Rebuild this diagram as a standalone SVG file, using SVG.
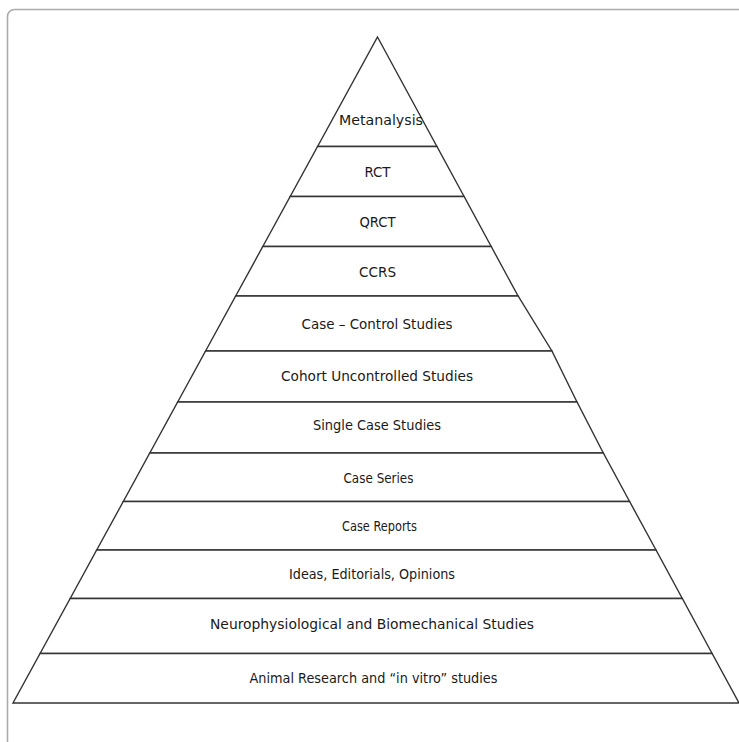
<svg xmlns="http://www.w3.org/2000/svg" width="739" height="742" viewBox="0 0 739 742">
<style>
.frame{fill:none;stroke:#ababab;stroke-width:1.6}
.band{fill:#fff;stroke:#333;stroke-width:1.4;stroke-linejoin:miter}
.lbl{font-family:"DejaVu Sans Condensed","Liberation Sans",Arial,sans-serif;font-stretch:condensed;font-size:14px;fill:#1a1a1a;text-anchor:middle}
</style>
<rect width="739" height="742" fill="#fff"/>
<rect class="frame" x="7.5" y="9.5" width="760" height="760" rx="7" ry="7"/>
<g id="pyramid">
<g id="n1"><polygon class="band" points="377.5,37 436.9,146.5 317.6,146.5"/><text class="lbl" x="381" y="125" textLength="84" lengthAdjust="spacingAndGlyphs">Metanalysis</text></g>
<g id="n2"><polygon class="band" points="317.6,146.5 436.9,146.5 464.1,196.5 290.2,196.5"/><text class="lbl" x="377.5" y="177" textLength="26" lengthAdjust="spacingAndGlyphs">RCT</text></g>
<g id="n3"><polygon class="band" points="290.2,196.5 464.1,196.5 491.2,246.5 262.8,246.5"/><text class="lbl" x="377.5" y="227" textLength="36" lengthAdjust="spacingAndGlyphs">QRCT</text></g>
<g id="n4"><polygon class="band" points="262.8,246.5 491.2,246.5 518.1,296 235.7,296"/><text class="lbl" x="377.5" y="276.5" textLength="37" lengthAdjust="spacingAndGlyphs">CCRS</text></g>
<g id="n5"><polygon class="band" points="235.7,296 518.1,296 551.9,351 205.6,351"/><text class="lbl" x="377" y="328.5" textLength="151" lengthAdjust="spacingAndGlyphs">Case – Control Studies</text></g>
<g id="n6"><polygon class="band" points="205.6,351 551.9,351 577,402 177.7,402"/><text class="lbl" x="377" y="380.5" textLength="192" lengthAdjust="spacingAndGlyphs">Cohort Uncontrolled Studies</text></g>
<g id="n7"><polygon class="band" points="177.7,402 577,402 603.3,453 149.8,453"/><text class="lbl" x="377" y="430" textLength="128" lengthAdjust="spacingAndGlyphs">Single Case Studies</text></g>
<g id="n8"><polygon class="band" points="149.8,453 603.3,453 629.6,501.5 123.3,501.5"/><text class="lbl" x="378.5" y="482.5" textLength="70" lengthAdjust="spacingAndGlyphs">Case Series</text></g>
<g id="n9"><polygon class="band" points="123.3,501.5 629.6,501.5 656,550 96.7,550"/><text class="lbl" x="379.5" y="531" textLength="75" lengthAdjust="spacingAndGlyphs">Case Reports</text></g>
<g id="n10"><polygon class="band" points="96.7,550 656,550 682.3,598.5 70.2,598.5"/><text class="lbl" x="372" y="579" textLength="166" lengthAdjust="spacingAndGlyphs">Ideas, Editorials, Opinions</text></g>
<g id="n11"><polygon class="band" points="70.2,598.5 682.3,598.5 712.1,653.5 40.1,653.5"/><text class="lbl" x="372" y="629" textLength="324" lengthAdjust="spacingAndGlyphs">Neurophysiological and Biomechanical Studies</text></g>
<g id="n12"><polygon class="band" points="40.1,653.5 712.1,653.5 739,703 13,703"/><text class="lbl" x="373.5" y="682.5" textLength="248" lengthAdjust="spacingAndGlyphs">Animal Research and “in vitro” studies</text></g>
</g>
</svg>
